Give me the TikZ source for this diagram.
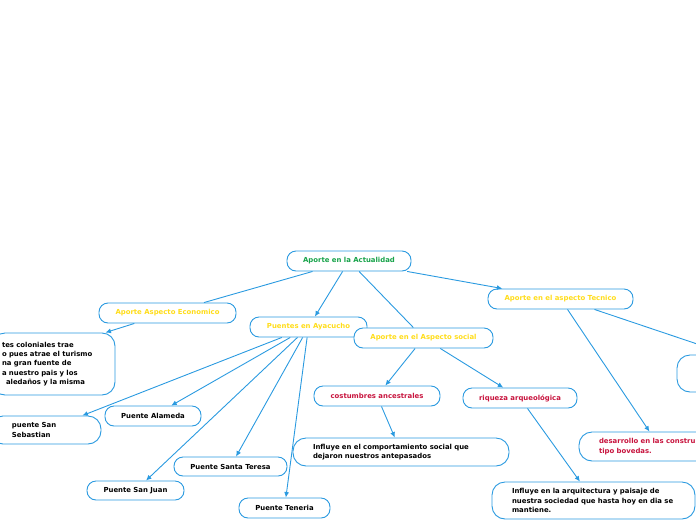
\documentclass[tikz,border=0pt]{standalone}
\usepackage{fontspec}
\setmainfont{DejaVu Sans}
\usetikzlibrary{arrows.meta}

\definecolor{azul}{HTML}{2A9AE0}
\definecolor{verde}{HTML}{17A34A}
\definecolor{amarillo}{HTML}{FFDD1A}
\definecolor{rojo}{HTML}{C8143E}

\begin{document}
\begin{tikzpicture}[
    x=1pt,
    y=-1pt,
    >={Latex[length=5.5pt,width=5pt]},
    caja/.style={
        draw=azul,
        fill=white,
        line width=0.9pt,
        rounded corners=9pt,
        inner sep=0pt,
        font=\fontsize{6.9}{9.4}\selectfont\bfseries
    },
    tema/.style={
        caja,
        minimum height=20pt
    },
    texto/.style={
        caja,
        rounded corners=13pt,
        align=left,
        inner xsep=20pt
    },
    flecha/.style={
        ->,
        draw=azul,
        line width=0.9pt
    },
    linea/.style={
        draw=azul,
        line width=0.9pt
    }
]
\useasboundingbox (0,0) rectangle (696,520);

% Central topic
\node[tema, minimum width=124pt, text=verde] (actualidad) at (349,261) {Aporte en la Actualidad};

% Main branches
\node[tema, minimum width=137pt, text=amarillo] (economico) at (167.5,313) {Aporte Aspecto Economico};
\node[tema, minimum width=117pt, text=amarillo] (ayacucho) at (308.5,327) {Puentes en Ayacucho};
\node[tema, minimum width=139pt, text=amarillo] (social) at (423.5,338) {Aporte en el Aspecto social};
\node[tema, minimum width=145pt, text=amarillo] (tecnico) at (560.5,299) {Aporte en el aspecto Tecnico};

% Economic aspect
\node[texto, text width=103pt, inner xsep=10pt, minimum height=62pt] (beneficio) at (53.5,364)
{tes coloniales trae\\o pues atrae el turismo\\na gran fuente de\\a nuestro pais y los\\\hspace*{4pt}aledaños y la misma};

% Bridges
\node[texto, text width=67pt, inner xsep=22pt, minimum height=28pt] (sebastian) at (45.5,430) {puente San\\Sebastian};
\node[tema, minimum width=96pt] (alameda) at (153,416) {Puente Alameda};
\node[tema, minimum width=113pt, minimum height=19pt] (teresa) at (230.5,466.5) {Puente Santa Teresa};
\node[tema, minimum width=97pt, minimum height=19pt] (juan) at (135.5,490.5) {Puente San Juan};
\node[tema, minimum width=91pt] (teneria) at (284.5,508) {Puente Teneria};

% Social aspect
\node[tema, minimum width=126pt, text=rojo] (costumbres) at (377,396) {costumbres ancestrales};
\node[tema, minimum width=114pt, text=rojo] (riqueza) at (520,398) {riqueza arqueológica};
\node[texto, text width=176pt, minimum height=28pt] (comportamiento) at (401,452)
{Influye en el comportamiento social que\\dejaron nuestros antepasados};
\node[texto, text width=163pt, minimum height=37pt] (arquitectura) at (593.5,500.5)
{Influye en la arquitectura y paisaje de\\nuestra sociedad que hasta hoy en dia se\\mantiene.};

% Technical aspect
\node[texto, text width=121pt, minimum height=29pt, text=rojo] (desarrollo) at (659.5,446.5)
{desarrollo en las constru\\tipo bovedas.};
\node[texto, minimum width=123pt, minimum height=37pt] (derecha) at (738.5,373.5) {};

% Connectors from the central topic
\draw[linea] (actualidad) -- (economico);
\draw[flecha] (actualidad) -- (ayacucho);
\draw[linea] (actualidad) -- (social);
\draw[flecha] (actualidad) -- (tecnico);

% Connectors of the branches
\draw[flecha] (economico) -- ([xshift=-10pt]beneficio.north east);
\draw[flecha] (ayacucho) -- (sebastian);
\draw[flecha] (ayacucho) -- (alameda);
\draw[flecha] (ayacucho) -- (juan);
\draw[flecha] (ayacucho) -- (teresa);
\draw[flecha] (ayacucho) -- (teneria);
\draw[flecha] (social) -- (costumbres);
\draw[flecha] (social) -- (riqueza);
\draw[flecha] (costumbres) -- (comportamiento);
\draw[flecha] (riqueza) -- (arquitectura);
\draw[flecha] (tecnico) -- (desarrollo);
\draw[flecha] ([xshift=34pt]tecnico.south) -- ([xshift=-10pt]derecha.north);

\end{tikzpicture}
\end{document}
